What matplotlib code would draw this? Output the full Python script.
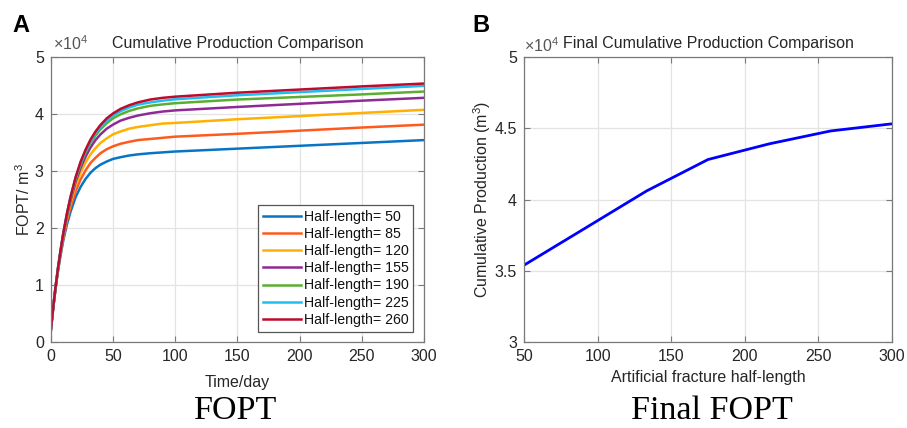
import matplotlib
matplotlib.use("Agg")
import matplotlib.pyplot as plt

plt.rcParams['font.family'] = ['Liberation Sans', 'DejaVu Sans']
plt.rcParams['mathtext.fontset'] = 'custom'
plt.rcParams['mathtext.rm'] = 'Liberation Sans'
plt.rcParams['mathtext.it'] = 'Liberation Sans:italic'

# ---- data (values in units of 1e4 m^3) ----
time_days = [0, 2, 4, 6, 8, 10, 13, 16, 20, 24, 28, 32, 36, 40, 45, 50, 56, 63, 70, 80,
             90, 100, 150, 200, 250, 300]
half_lengths = [50, 85, 120, 155, 190, 225, 260]

fopt_50 = [0.19, 0.60, 0.96, 1.27, 1.53, 1.77, 2.06, 2.29, 2.54, 2.72, 2.86, 2.97, 3.05,
           3.11, 3.165, 3.21, 3.24, 3.27, 3.29, 3.31, 3.325, 3.34, 3.39, 3.44, 3.49, 3.54]
fopt_85 = [0.19, 0.60, 0.97, 1.29, 1.56, 1.81, 2.12, 2.37, 2.645, 2.85, 3.01, 3.14, 3.23,
           3.31, 3.38, 3.43, 3.475, 3.51, 3.54, 3.56, 3.58, 3.60, 3.65, 3.705, 3.76, 3.81]
fopt_120 = [0.19, 0.61, 0.975, 1.30, 1.59, 1.84, 2.17, 2.44, 2.74, 2.97, 3.15, 3.29, 3.40,
            3.49, 3.57, 3.64, 3.69, 3.74, 3.77, 3.80, 3.83, 3.84, 3.905, 3.96, 4.015, 4.07]
fopt_155 = [0.19, 0.61, 0.977, 1.31, 1.60, 1.865, 2.205, 2.49, 2.81, 3.055, 3.25, 3.41, 3.54,
            3.64, 3.74, 3.81, 3.88, 3.93, 3.97, 4.01, 4.04, 4.06, 4.12, 4.175, 4.23, 4.28]
fopt_190 = [0.19, 0.61, 0.98, 1.32, 1.61, 1.88, 2.23, 2.53, 2.85, 3.11, 3.32, 3.49, 3.62,
            3.73, 3.835, 3.92, 3.99, 4.05, 4.095, 4.14, 4.165, 4.186, 4.25, 4.295, 4.34, 4.39]
fopt_225 = [0.19, 0.61, 0.985, 1.32, 1.62, 1.89, 2.25, 2.55, 2.875, 3.14, 3.35, 3.525, 3.66,
            3.77, 3.88, 3.97, 4.045, 4.11, 4.16, 4.20, 4.23, 4.255, 4.325, 4.38, 4.435, 4.49]
fopt_260 = [0.19, 0.61, 0.984, 1.32, 1.62, 1.895, 2.25, 2.55, 2.89, 3.16, 3.37, 3.55, 3.69,
            3.805, 3.92, 4.005, 4.085, 4.15, 4.20, 4.25, 4.28, 4.30, 4.37, 4.425, 4.48, 4.53]

final_half_length = [50, 91.7, 133.3, 175, 216.7, 258.3, 300]
final_fopt = [3.54, 3.80, 4.06, 4.28, 4.39, 4.48, 4.53]

series = [fopt_50, fopt_85, fopt_120, fopt_155, fopt_190, fopt_225, fopt_260]
colors = ['#0A74C4', '#FF5A1E', '#FFB000', '#8E2A96', '#5AAE32', '#1EBEF0', '#BE0A2D']

W, H = 907, 428
fig = plt.figure(figsize=(W / 100, H / 100), dpi=100)

def frac_rect(x0, x1, ytop, ybot):
    return [x0 / W, 1 - ybot / H, (x1 - x0) / W, (ybot - ytop) / H]

axA = fig.add_axes(frac_rect(50.7, 424, 56.7, 342.3))
axB = fig.add_axes(frac_rect(524, 892, 56.7, 342.3))

tick_color = '#262626'
spine_color = '#7a7a7a'
fs = 11.5

def style(ax):
    ax.grid(True, color='#e3e3e3', lw=0.9)
    ax.set_axisbelow(True)
    for s in ax.spines.values():
        s.set_color(spine_color)
        s.set_linewidth(0.9)
    ax.tick_params(direction='in', top=True, right=True, length=4, width=0.8,
                   colors=spine_color, labelcolor=tick_color, labelsize=fs, pad=5)

for vals, hl, c in zip(series, half_lengths, colors):
    axA.plot(time_days, vals, color=c, lw=1.8, label=f'Half-length= {hl}')
axA.set_xlim(0, 300)
axA.set_ylim(0, 5)
axA.set_xticks([0, 50, 100, 150, 200, 250, 300])
axA.set_yticks([0, 1, 2, 3, 4, 5])
style(axA)
axA.set_xlabel('Time/day', fontsize=fs, color=tick_color, labelpad=8)
axA.set_ylabel(r'FOPT/ m$^3$', fontsize=fs, color=tick_color, labelpad=1.5)
axA.set_title('Cumulative Production Comparison', fontsize=fs, color=tick_color, pad=6)
axA.text(0.005, 1.012, r'$\times10^4$', transform=axA.transAxes, fontsize=fs,
         color='#555555', ha='left', va='bottom')
leg = axA.legend(loc='lower right', fontsize=10.2, handlelength=2.7, handletextpad=0.15,
                 labelspacing=0.22, borderpad=0.35, borderaxespad=0.75,
                 fancybox=False, framealpha=1, edgecolor='#555555')
leg.get_frame().set_linewidth(0.9)
for t in leg.get_texts():
    t.set_color('#111111')

axB.plot(final_half_length, final_fopt, color='#0000FF', lw=2.0)
axB.set_xlim(50, 300)
axB.set_ylim(3, 5)
axB.set_xticks([50, 100, 150, 200, 250, 300])
axB.set_yticks([3, 3.5, 4, 4.5, 5])
axB.set_yticklabels(['3', '3.5', '4', '4.5', '5'])
style(axB)
axB.set_xlabel('Artificial fracture half-length', fontsize=fs, color=tick_color, labelpad=4)
axB.set_ylabel(r'Cumulative Production (m$^3$)', fontsize=fs, color=tick_color, labelpad=1.5)
axB.set_title('Final Cumulative Production Comparison', fontsize=fs, color=tick_color, pad=6)
axB.text(0.0, 1.005, r'$\times10^4$', transform=axB.transAxes, fontsize=fs,
         color='#555555', ha='left', va='bottom')

fig.text(12 / W, 1 - 32 / H, 'A', fontsize=17, fontweight='bold', ha='left', va='baseline')
fig.text(472 / W, 1 - 32 / H, 'B', fontsize=17, fontweight='bold', ha='left', va='baseline')
fig.text(236 / W, 1 - 419 / H, 'FOPT', fontsize=24.5, family='Liberation Serif',
         ha='center', va='baseline')
fig.text(711.7 / W, 1 - 419 / H, 'Final FOPT', fontsize=24.5, family='Liberation Serif',
         ha='center', va='baseline')

fig.savefig('out.png', dpi=100)
